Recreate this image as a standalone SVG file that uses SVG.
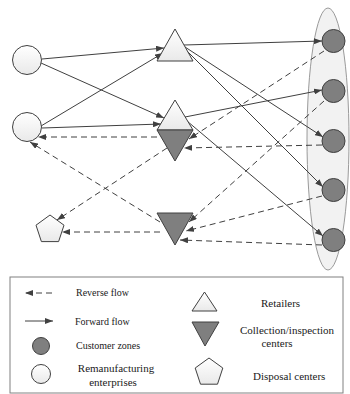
<svg xmlns="http://www.w3.org/2000/svg" width="350" height="394" viewBox="0 0 350 394">
<style>
.fw{stroke:#404040;stroke-width:1;fill:none;marker-end:url(#ah)}
.rv{stroke:#404040;stroke-width:1;fill:none;stroke-dasharray:6,4;marker-end:url(#ah)}
.wh{fill:url(#wg);stroke:#404040;stroke-width:1}
.gr{fill:#7f7f7f;stroke:#404040;stroke-width:1}
.t{font-family:"Liberation Serif","Times New Roman",serif;fill:#1a1a1a}
</style>
<defs>
<linearGradient id="wg" x1="0" y1="0" x2="0" y2="1">
<stop offset="0" stop-color="#ffffff"/>
<stop offset="1" stop-color="#e9e9e9"/>
</linearGradient>
<marker id="ah" markerUnits="userSpaceOnUse" markerWidth="8" markerHeight="6" refX="8" refY="3" orient="auto">
<path d="M0,0 L8,3 L0,6 z" fill="#404040"/>
</marker>
</defs>
<rect width="350" height="394" fill="#ffffff"/>
<g id="customer-group">
<ellipse cx="328" cy="139" rx="21" ry="131" fill="#f2f2f2" stroke="#9a9a9a" stroke-width="1"/>
</g>
<g id="connectors">
<line class="fw" x1="42" y1="59" x2="164" y2="48"/>
<line class="fw" x1="41" y1="63" x2="164" y2="118"/>
<line class="fw" x1="41" y1="126" x2="163" y2="53"/>
<line class="fw" x1="42" y1="128" x2="161" y2="124"/>
<line class="fw" x1="184" y1="45" x2="322" y2="41"/>
<line class="fw" x1="185" y1="47" x2="323" y2="137"/>
<line class="fw" x1="186" y1="50" x2="323" y2="187"/>
<line class="fw" x1="185" y1="117" x2="322" y2="90"/>
<line class="fw" x1="187" y1="121" x2="323" y2="236"/>
<line class="rv" x1="324" y1="51" x2="189" y2="139"/>
<line class="rv" x1="324" y1="101" x2="189" y2="222"/>
<line class="rv" x1="322" y1="145" x2="184" y2="148"/>
<line class="rv" x1="322" y1="196" x2="186" y2="231"/>
<line class="rv" x1="322" y1="245" x2="180" y2="240"/>
<line class="rv" x1="157" y1="137" x2="38" y2="137"/>
<line class="rv" x1="167" y1="148" x2="57" y2="220"/>
<line class="rv" x1="160" y1="222" x2="30" y2="142"/>
<line class="rv" x1="160" y1="232" x2="62" y2="232"/>
</g>
<g id="reman-1"><circle class="wh" cx="27" cy="60" r="14.5"/></g>
<g id="reman-2"><circle class="wh" cx="27" cy="127" r="14.5"/></g>
<g id="retailer-1"><polygon class="wh" points="175,29 193,61 157,61"/></g>
<g id="retailer-2"><polygon class="wh" points="175,100 193,130 157,130"/></g>
<g id="collection-1"><polygon class="gr" points="157,130 193,130 175,161"/></g>
<g id="collection-2"><polygon class="gr" points="157,213 193,213 175,245"/></g>
<g id="disposal"><polygon class="wh" points="50,215 64,225.2 58.6,241.6 41.4,241.6 36,225.2"/></g>
<g id="customer-1"><circle class="gr" cx="333.5" cy="41" r="11.5"/></g>
<g id="customer-2"><circle class="gr" cx="333.5" cy="91" r="11.5"/></g>
<g id="customer-3"><circle class="gr" cx="333.5" cy="141" r="11.5"/></g>
<g id="customer-4"><circle class="gr" cx="333.5" cy="190" r="11.5"/></g>
<g id="customer-5"><circle class="gr" cx="333.5" cy="240" r="11.5"/></g>
<g id="legend">
<rect x="10" y="277" width="333" height="116" fill="#ffffff" stroke="#808080" stroke-width="1"/>
<line class="rv" x1="52" y1="293" x2="25" y2="293"/>
<text class="t" x="76" y="296" font-size="10">Reverse flow</text>
<line class="fw" x1="25" y1="321" x2="53" y2="321"/>
<text class="t" x="75" y="325" font-size="10">Forward flow</text>
<circle class="gr" cx="41" cy="346" r="8.5"/>
<text class="t" x="76" y="349" font-size="10">Customer zones</text>
<circle class="wh" cx="41" cy="374" r="9.5"/>
<text class="t" x="116" y="372" font-size="11" text-anchor="middle">Remanufacturing</text>
<text class="t" x="113" y="386" font-size="11" text-anchor="middle">enterprises</text>
<polygon class="wh" points="204.5,292 217,311 192,311"/>
<text class="t" x="261" y="307" font-size="11">Retailers</text>
<polygon class="gr" points="192,322 219,322 205,346"/>
<text class="t" x="287" y="334" font-size="11" text-anchor="middle">Collection/inspection</text>
<text class="t" x="277" y="347" font-size="11" text-anchor="middle">centers</text>
<polygon class="wh" points="209,358 222.8,368 217.5,384.2 200.5,384.2 195.2,368"/>
<text class="t" x="253" y="380" font-size="11">Disposal centers</text>
</g>
</svg>
